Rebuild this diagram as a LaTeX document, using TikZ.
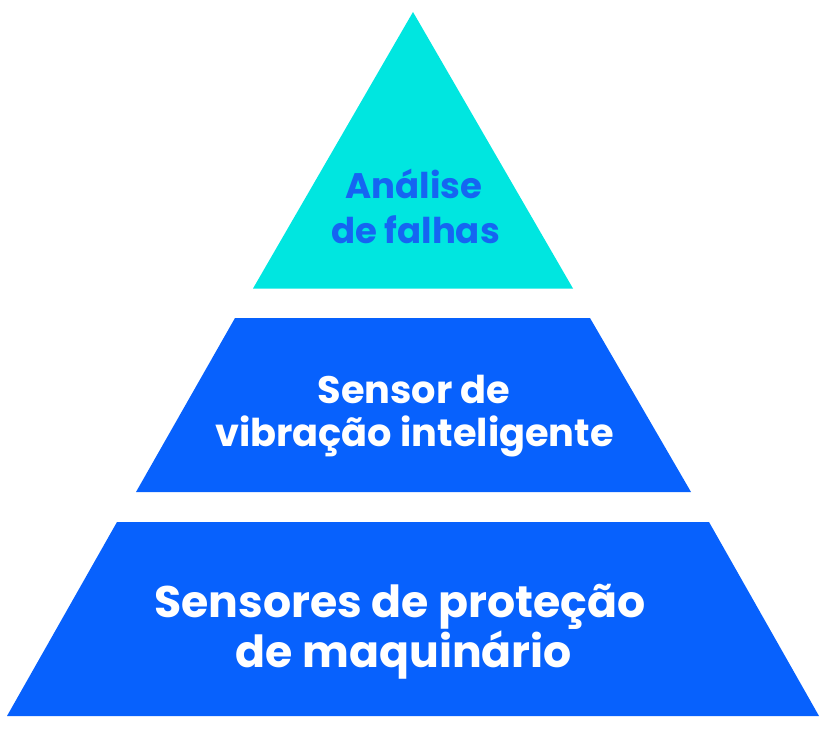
\documentclass[tikz,border=0pt]{standalone}
\usepackage{fontspec}
\setmainfont{Poppins}
\definecolor{topcyan}{HTML}{00E6E0}
\definecolor{layerblue}{HTML}{0761FD}
\definecolor{toptext}{HTML}{1565F2}
\begin{document}
\begin{tikzpicture}[x=1pt,y=-1pt,
  layer/.style={fill=layerblue,draw=none},
  lbl/.style={align=center,font=\bfseries,text=white,inner sep=0pt}]
\useasboundingbox (0,0) rectangle (832,730);
\fill[topcyan] (413,12) -- (573,288.5) -- (253,288.5) -- cycle;
\fill[layer] (235,318) -- (590,318) -- (691,492) -- (136,492) -- cycle;
\fill[layer] (117,522) -- (709,522) -- (819,716) -- (7,716) -- cycle;
\node[lbl,text=toptext,font=\fontsize{35.5}{44}\selectfont\bfseries,anchor=base] (t1) at (414,198) {Análise};
\node[lbl,text=toptext,font=\fontsize{35.5}{44}\selectfont\bfseries,anchor=base] (t2) at (415.5,243) {de falhas};
\node[lbl,font=\fontsize{38.3}{43}\selectfont\bfseries,anchor=base] (m1) at (414,403) {Sensor de};
\node[lbl,font=\fontsize{38.3}{43}\selectfont\bfseries,anchor=base] (m2) at (414.5,446) {vibração inteligente};
\node[lbl,font=\fontsize{44.2}{50}\selectfont\bfseries,anchor=base] (b1) at (400,617) {Sensores de proteção};
\node[lbl,font=\fontsize{44.2}{50}\selectfont\bfseries,anchor=base] (b2) at (404,667) {de maquinário};
\end{tikzpicture}
\end{document}
